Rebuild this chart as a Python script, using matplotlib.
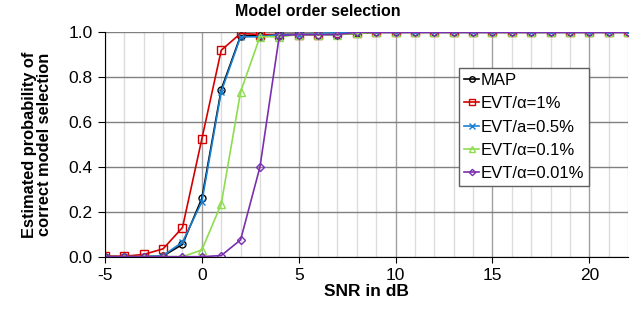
import matplotlib.pyplot as plt
from matplotlib.ticker import MultipleLocator

plt.rcParams['font.family'] = ['Liberation Sans', 'DejaVu Sans']
plt.rcParams['axes.unicode_minus'] = False

snr = list(range(-5, 23))
tail = [1.0] * 14  # SNR 9..22

p_map = [0.0, 0.0, 0.0, 0.003, 0.055, 0.26, 0.745, 0.985, 0.985, 0.99, 0.99, 0.99, 0.99, 0.995] + tail
p_evt1 = [0.003, 0.002, 0.01, 0.035, 0.13, 0.525, 0.92, 0.995, 0.99, 0.99, 0.99, 0.99, 0.995, 0.998] + tail
p_evt05 = [0.0, 0.0, 0.0, 0.005, 0.065, 0.245, 0.735, 0.98, 0.98, 0.99, 0.99, 0.995, 0.998, 1.0] + tail
p_evt01 = [0.0, 0.0, 0.0, 0.0, 0.0, 0.03, 0.235, 0.735, 0.98, 0.98, 0.99, 0.99, 0.99, 0.995] + tail
p_evt001 = [0.0, 0.0, 0.0, 0.0, 0.0, 0.0, 0.005, 0.075, 0.40, 0.985, 0.99, 0.99, 0.99, 1.0] + tail

fig = plt.figure(figsize=(6.43, 3.09), dpi=100)
ax = fig.add_axes([0.1633, 0.1693, 0.8134, 0.7262])

ax.plot(snr, p_map, color='black', marker='o', ms=5, mfc='none', lw=1.2, label='MAP')
ax.plot(snr, p_evt1, color='#d40000', marker='s', ms=5.5, mfc='none', lw=1.2, label='EVT/α=1%')
ax.plot(snr, p_evt05, color='#1a7fd0', marker='x', ms=5, lw=1.2, label='EVT/a=0.5%')
ax.plot(snr, p_evt01, color='#8fdc50', marker='^', ms=5.5, mfc='none', lw=1.2, label='EVT/α=0.1%')
ax.plot(snr, p_evt001, color='#7a2fb0', marker='D', ms=4, mfc='none', lw=1.2, label='EVT/α=0.01%')

ax.set_xlim(-5, 22)
ax.set_ylim(0, 1.0)
ax.xaxis.set_major_locator(MultipleLocator(5))
ax.xaxis.set_minor_locator(MultipleLocator(1))
ax.yaxis.set_major_locator(MultipleLocator(0.2))
ax.yaxis.set_major_formatter(plt.FormatStrFormatter('%.1f'))
ax.grid(which='major', axis='x', color='#a0a0a0', lw=1)
ax.grid(which='minor', axis='x', color='#dcdcdc', lw=1)
ax.grid(which='major', axis='y', color='#808080', lw=1)
ax.set_axisbelow(True)
for s in ['top', 'right']:
    ax.spines[s].set_visible(False)
ax.tick_params(axis='both', which='major', labelsize=12.5, direction='out', length=4, pad=4)
ax.tick_params(axis='x', which='minor', length=0)
ax.tick_params(axis='y', length=5)

# title sits centred on the figure, not on the axes
fig.text(0.495, 0.962, 'Model order selection', fontsize=11.5, fontweight='bold',
         ha='center', va='center')
ax.set_xlabel('SNR in dB', fontsize=12.5, fontweight='bold', labelpad=1)
ax.set_ylabel('Estimated probability of\ncorrect model selection', fontsize=11.8,
              fontweight='bold', labelpad=12, linespacing=1.0)

leg = ax.legend(loc='upper left', bbox_to_anchor=(0.677, 0.841), fontsize=12,
                handlelength=0.9, handletextpad=0.1, borderpad=0.3, labelspacing=0.5,
                fancybox=False, framealpha=1, borderaxespad=0, markerscale=0.8)
leg.get_frame().set_edgecolor('#606060')
leg.get_frame().set_linewidth(1)

fig.savefig('out.png', dpi=100)
